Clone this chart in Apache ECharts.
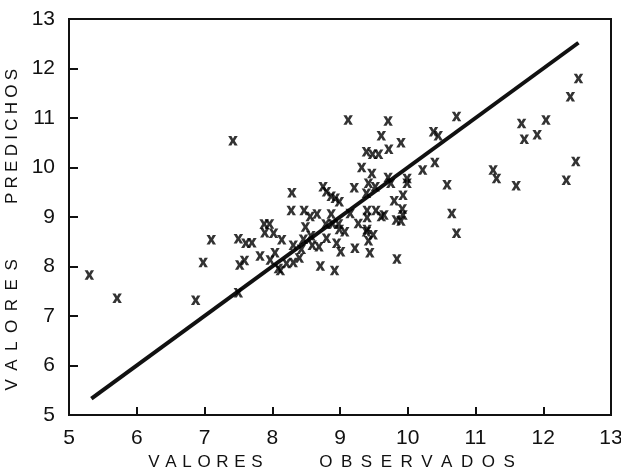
<!DOCTYPE html>
<html>
<head>
<meta charset="utf-8">
<script src="https://cdn.jsdelivr.net/npm/echarts@6/dist/echarts.min.js"></script>
<style>
html,body{margin:0;padding:0;background:#fff;}
#chart{width:621px;height:468px;}
</style>
</head>
<body>
<div id="chart"></div>
<script>
const observados = [
  5.30, 5.71, 6.87, 6.98, 7.10, 7.50, 7.61, 7.70, 7.52, 7.59,
  7.50, 7.82, 7.88, 7.96, 7.89, 8.02, 7.97, 8.04, 8.14, 8.09,
  8.12, 8.21, 8.31, 8.31, 8.40, 8.28, 8.47, 8.56, 8.66, 8.49,
  8.46, 8.57, 8.43, 8.59, 8.69, 8.71, 8.80, 8.79, 8.89, 8.87,
  8.92, 8.95, 8.29, 9.61, 9.90, 9.39, 9.48, 9.57, 9.72, 9.32,
  9.47, 9.71, 9.75, 9.99, 9.99, 9.42, 9.21, 9.39, 8.75, 8.80,
  8.87, 8.93, 8.99, 8.98, 8.99, 9.07, 9.15, 9.27, 9.40, 9.40,
  9.53, 9.61, 9.65, 9.40, 9.80, 9.92, 9.93, 9.83, 9.90, 9.93,
  9.39, 9.49, 9.42, 9.44, 9.22, 9.01, 9.84, 10.65, 10.72, 12.52,
  12.40, 11.68, 11.72, 12.04, 11.91, 12.48, 12.34, 11.60, 11.26, 11.31,
  10.72, 10.58, 10.40, 10.22, 10.38, 10.45, 9.71, 9.12, 7.42, 9.52
];
const predichos = [
  7.83, 7.36, 7.32, 8.08, 8.54, 8.56, 8.47, 8.48, 8.03, 8.12,
  7.47, 8.21, 8.86, 8.86, 8.68, 8.67, 8.13, 8.28, 8.54, 7.96,
  7.92, 8.06, 8.43, 8.08, 8.17, 9.13, 9.13, 9.01, 9.06, 8.80,
  8.55, 8.62, 8.35, 8.43, 8.40, 8.01, 8.57, 8.86, 8.86, 9.06,
  7.92, 8.47, 9.49, 10.64, 10.50, 10.32, 10.27, 10.27, 10.37, 10.00,
  9.88, 9.80, 9.68, 9.78, 9.68, 9.68, 9.59, 9.48, 9.61, 9.51,
  9.42, 9.38, 9.31, 8.86, 8.75, 8.70, 9.07, 8.87, 9.13, 8.99,
  9.13, 9.01, 9.04, 8.75, 9.33, 9.16, 9.04, 8.94, 8.92, 9.44,
  8.70, 8.64, 8.52, 8.28, 8.37, 8.30, 8.15, 9.07, 8.67, 11.80,
  11.43, 10.89, 10.57, 10.96, 10.66, 10.12, 9.74, 9.63, 9.95, 9.78,
  11.03, 9.65, 10.10, 9.95, 10.72, 10.64, 10.94, 10.96, 10.54, 9.61
];
// Reference line (predicted = observed)
const lineX = [5.33, 12.52];
const lineY = [5.33, 12.52];
// Axis ticks
const axisMin = 5, axisMax = 13, axisStep = 1;

const FONT = 'Liberation Sans';
const INK = '#111';
const xMark = 'path://M0,0L3.4,0L5,2.9L6.6,0L10,0L6.9,5L10,10L6.6,10L5,7.1L3.4,10L0,10L3.1,5Z';

const scatterData = observados.map((v, i) => [v, predichos[i]]);
const lineData = lineX.map((v, i) => [v, lineY[i]]);

const EN = '\u2002', THIRD = '\u2004', QUARTER = '\u2005';
const spaced = (s, sp) => s.split('').join(sp);

const xName = spaced('VALORES', THIRD) + EN.repeat(6) + THIRD + spaced('OBSERVADOS', EN) + EN.repeat(2);
const yName = spaced('VALORES', EN) + EN.repeat(6) + QUARTER + spaced('PREDICHOS', QUARTER) + EN.repeat(3);

const chart = echarts.init(document.getElementById('chart'), null, {renderer: 'canvas'});
chart.setOption({
  animation: false,
  backgroundColor: '#fff',
  grid: {left: 69, right: 10, top: 19, bottom: 53, containLabel: false, outerBoundsMode: 'none',
         show: true, borderColor: INK, borderWidth: 2, backgroundColor: 'transparent'},
  xAxis: {
    type: 'value', min: axisMin, max: axisMax, interval: axisStep,
    name: xName,
    nameLocation: 'middle', nameGap: 36,
    nameTextStyle: {fontFamily: FONT, fontSize: 17, color: INK},
    axisLine: {show: true, lineStyle: {color: INK, width: 2}},
    axisTick: {show: true, inside: true, length: 8, lineStyle: {color: INK, width: 2}},
    axisLabel: {fontFamily: FONT, fontSize: 21, color: INK, margin: 13},
    splitLine: {show: false}
  },
  yAxis: {
    type: 'value', min: axisMin, max: axisMax, interval: axisStep,
    name: yName,
    nameLocation: 'middle', nameGap: 26,
    nameTextStyle: {fontFamily: FONT, fontSize: 17, color: INK},
    axisLine: {show: true, lineStyle: {color: INK, width: 2}},
    axisTick: {show: true, inside: true, length: 9, lineStyle: {color: INK, width: 2}},
    axisLabel: {fontFamily: FONT, fontSize: 21, color: INK, margin: 14},
    splitLine: {show: false}
  },
  series: [
    {
      type: 'line', data: lineData, showSymbol: false, symbol: 'none',
      lineStyle: {color: INK, width: 4}, z: 2
    },
    {
      type: 'scatter', data: scatterData, symbol: xMark, symbolSize: [9.5, 9.5],
      itemStyle: {color: '#000'}, z: 3
    }
  ]
});
</script>
</body>
</html>
